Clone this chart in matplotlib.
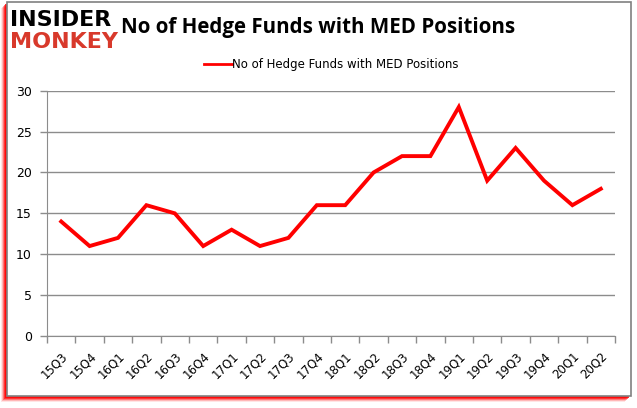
import matplotlib.pyplot as plt
from matplotlib.patches import Rectangle

quarters = ['15Q3', '15Q4', '16Q1', '16Q2', '16Q3', '16Q4', '17Q1', '17Q2', '17Q3', '17Q4',
            '18Q1', '18Q2', '18Q3', '18Q4', '19Q1', '19Q2', '19Q3', '19Q4', '20Q1', '20Q2']
funds = [14, 11, 12, 16, 15, 11, 13, 11, 12, 16, 16, 20, 22, 22, 28, 19, 23, 19, 16, 18]
yticks = [0, 5, 10, 15, 20, 25, 30]

fig = plt.figure(figsize=(6.37, 4.08), dpi=100)
W, H = 637, 408

# red glow on the left and bottom edges, then the gray frame
for i, a in enumerate([0.1, 0.2, 0.35, 0.55, 0.8]):
    d = 6 - i
    fig.patches.append(Rectangle(((7 - d) / W, (12 - d) / H), (624) / W, (394) / H,
                                 transform=fig.transFigure, facecolor='#ff0000',
                                 edgecolor='none', alpha=a, zorder=0))
fig.patches.append(Rectangle((7 / W, 12 / H), 624 / W, 394 / H,
                             transform=fig.transFigure, facecolor='white',
                             edgecolor='#808080', linewidth=1.2, zorder=1))

ax = fig.add_axes([47 / W, 1 - 336 / H, (615 - 47) / W, (336 - 90.7) / H])
ax.set_zorder(2)
x = list(range(len(funds)))
ax.plot(x, funds, color='#ff0000', linewidth=2.8, solid_joinstyle='miter',
        label='No of Hedge Funds with MED Positions')

ax.set_ylim(0, 30)
ax.set_xlim(-0.5, len(funds) - 0.5)
ax.set_yticks(yticks)
ax.set_yticklabels([str(v) for v in yticks], fontsize=9)
ax.yaxis.grid(True, color='#8c8c8c', linewidth=1)
ax.set_axisbelow(True)

ax.set_xticks(x)
ax.set_xticklabels(quarters, rotation=45, ha='right', va='top', rotation_mode='anchor',
                   fontsize=8.5)
ax.set_xticks([i - 0.5 for i in range(len(funds) + 1)], minor=True)
ax.tick_params(axis='x', which='major', length=0, pad=10)
ax.tick_params(axis='x', which='minor', length=5, color='#8c8c8c', width=1)
ax.tick_params(axis='y', length=5, color='#8c8c8c', width=1, pad=6)

for s in ['top', 'right']:
    ax.spines[s].set_visible(False)
ax.spines['left'].set_color('#8c8c8c')
ax.spines['bottom'].set_color('#8c8c8c')
ax.patch.set_alpha(0)

leg = ax.legend(loc='center', bbox_to_anchor=(0.5, 1 + 26 / 245.3), frameon=False, fontsize=8.5,
                handlelength=2.4, handletextpad=0.0)
leg.set_zorder(3)
for ln in leg.get_lines():
    ln.set_linewidth(2)

fig.text(318 / W, 1 - 28 / H, 'No of Hedge Funds with MED Positions', ha='center', va='center',
         fontsize=14.8, fontweight='bold', family='Open Sans', zorder=3)
fig.text(10 / W, 1 - 20 / H, 'INSIDER', fontsize=16, fontweight='heavy', family='DejaVu Sans',
         color='black', va='center', ha='left', zorder=3)
fig.text(10 / W, 1 - 42 / H, 'MONKEY', fontsize=16, fontweight='heavy', family='DejaVu Sans',
         color='#d8392b', va='center', ha='left', zorder=3)

fig.savefig('out.png', dpi=100)
